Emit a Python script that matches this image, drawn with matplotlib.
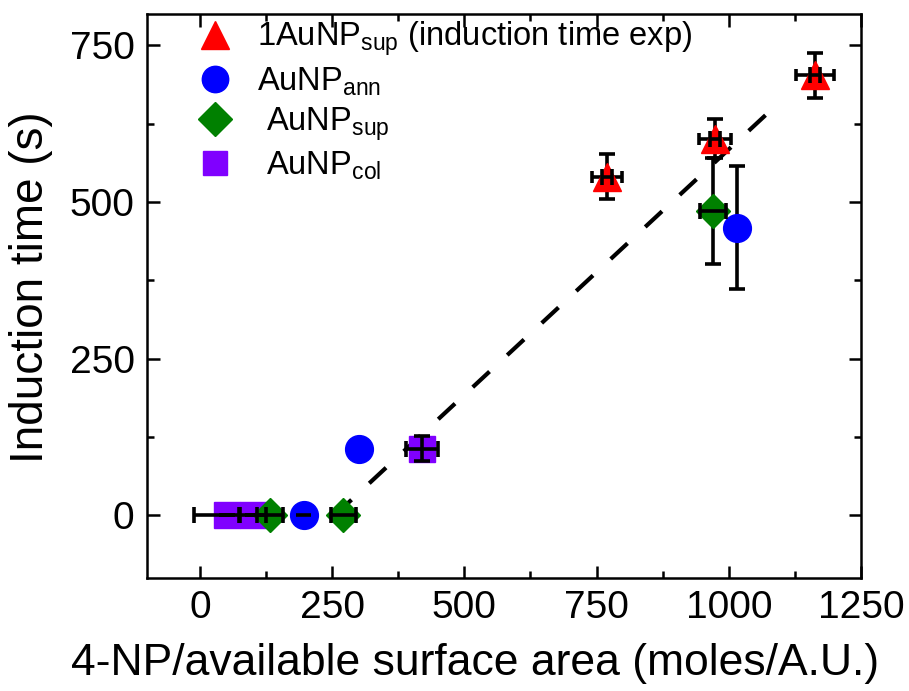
import matplotlib
matplotlib.use("Agg")
import matplotlib.pyplot as plt
from matplotlib.lines import Line2D
from matplotlib.ticker import MultipleLocator

plt.rcParams['font.family'] = ['Liberation Sans', 'DejaVu Sans']
plt.rcParams['mathtext.fontset'] = 'custom'
plt.rcParams['mathtext.rm'] = 'Liberation Sans'
plt.rcParams['mathtext.it'] = 'Liberation Sans'

# 1AuNP_sup (induction time exp)
tri_x = [770, 974, 1163]
tri_y = [540, 601, 702]
tri_yerr = [36, 31, 36]
tri_xerr_out = [28, 30, 36]
tri_xerr_in = [9, 9, 9]

# AuNP_ann
ann_x = [196, 300, 1016]
ann_y = [0, 106, 459]
ann_xerr = [15, 0, 0]
ann_yerr = [0, 0, 98]

# AuNP_sup
sup_x = [133, 271, 970]
sup_y = [0, 0, 486]
sup_xerr = [25, 24, 25]
sup_yerr = [0, 0, 85]

# AuNP_col
col_x = [52, 100, 420]
col_y = [0, 0, 106]
col_xerr_lo = [64, 25, 31]
col_xerr_hi = [22, 25, 31]
col_yerr = [0, 0, 20]

# linear guide
fit_x = [255, 1093]
fit_y = [0, 657]

red = '#ff0000'
blue = '#0000ff'
green = '#008000'
purple = '#8000ff'

fig = plt.figure(figsize=(9.09, 6.91), dpi=100)
ax = fig.add_axes([147/909, 1-578/691, (861-147)/909, (578-14)/691])

ekw = dict(fmt='none', ecolor='black', elinewidth=2.6, capthick=2.6)

# dashed guide
ax.plot(fit_x, fit_y, color='black', lw=3.0, dashes=(5.5, 5.8), zorder=2)

# vertical error bars (below markers)
ax.errorbar(tri_x, tri_y, yerr=tri_yerr, capsize=5.5, zorder=3, **ekw)
ax.errorbar(ann_x, ann_y, yerr=ann_yerr, capsize=5.5, zorder=3, **ekw)
ax.errorbar(sup_x, sup_y, yerr=sup_yerr, capsize=5.5, zorder=3, **ekw)
ax.errorbar(col_x, col_y, yerr=col_yerr, capsize=5.5, zorder=6, **ekw)
ax.errorbar(tri_x, tri_y, xerr=tri_xerr_out, capsize=4, zorder=3, **ekw)

# markers
ax.plot(col_x, col_y, 's', ms=19, color=purple, mec=purple, ls='none', zorder=4)
ax.plot(sup_x, sup_y, 'D', ms=17.5, color=green, mec=green, ls='none', zorder=4)
ax.plot(ann_x, ann_y, 'o', ms=20, color=blue, mec=blue, ls='none', zorder=4)
ax.plot(tri_x, tri_y, '^', ms=20, color=red, mec=red, ls='none', zorder=4)

# horizontal error bars (on top)
ax.errorbar(tri_x, tri_y, xerr=tri_xerr_in, capsize=5.5, zorder=6, **ekw)
ax.errorbar(sup_x, sup_y, xerr=sup_xerr, capsize=5.5, zorder=6, **ekw)
ax.errorbar(col_x, col_y, xerr=[col_xerr_lo, col_xerr_hi], capsize=5.5, zorder=6, **ekw)
ax.errorbar(ann_x[:1], ann_y[:1], xerr=ann_xerr[:1], capsize=0, zorder=6, **ekw)

ax.set_xlim(-100, 1250)
ax.set_ylim(-100, 800)
ax.xaxis.set_major_locator(MultipleLocator(250))
ax.xaxis.set_minor_locator(MultipleLocator(125))
ax.yaxis.set_major_locator(MultipleLocator(250))
ax.yaxis.set_minor_locator(MultipleLocator(125))
ax.tick_params(which='both', direction='in', top=True, right=True, width=1.8,
               labelsize=28, pad=9)
ax.tick_params(which='major', length=9)
ax.tick_params(which='minor', length=5)
for s in ax.spines.values():
    s.set_linewidth(1.8)

ax.set_xlabel('4-NP/available surface area (moles/A.U.)', fontsize=32, labelpad=12, x=0.459)
ax.set_ylabel('Induction time (s)', fontsize=33, labelpad=12, y=0.516)

handles = [
    Line2D([], [], marker='^', ms=20, color=red, ls='none'),
    Line2D([], [], marker='o', ms=19, color=blue, ls='none'),
    Line2D([], [], marker='D', ms=17, color=green, ls='none'),
    Line2D([], [], marker='s', ms=17, color=purple, ls='none'),
]
labels = [
    r'1AuNP$_{\mathrm{sup}}$ (induction time exp)',
    r'AuNP$_{\mathrm{ann}}$',
    r' AuNP$_{\mathrm{sup}}$',
    r' AuNP$_{\mathrm{col}}$',
]
ax.legend(handles, labels, loc='upper left', bbox_to_anchor=(0.04, 1.03),
          frameon=False, fontsize=23.5, handlelength=1.0, handletextpad=0.8,
          labelspacing=0.22, borderpad=0.2)

fig.savefig('out.png', dpi=100)
